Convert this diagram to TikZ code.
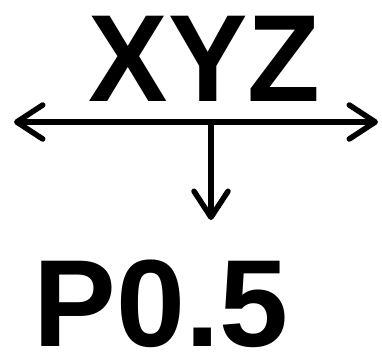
\documentclass[tikz,border=0pt]{standalone}
\usepackage{fontspec}
\setmainfont{Liberation Sans}
\usetikzlibrary{arrows.meta}

\begin{document}
\begin{tikzpicture}[x=1pt, y=1pt,
  >={Straight Barb[length=26pt,width=34pt,round]},
  label/.style={inner sep=0pt, anchor=base, font=\fontsize{124}{124}\selectfont\bfseries},
  barb/.style={line width=5.5pt, line cap=round}]

  \useasboundingbox (0,0) rectangle (382,354);

  % labels
  \node[label, xscale=0.96] (top) at (204.5,253) {XYZ};
  \node[label] (bot) at (161,8) {P0.5};

  % ends of the connectors
  \coordinate (west) at (14,232);
  \coordinate (east) at (378,232);
  \coordinate (mid)  at (211,232);
  \coordinate (down) at (211,134);

  \draw[barb, <->] (west) -- (east);
  \draw[barb, ->] (mid) -- (down);
\end{tikzpicture}
\end{document}
